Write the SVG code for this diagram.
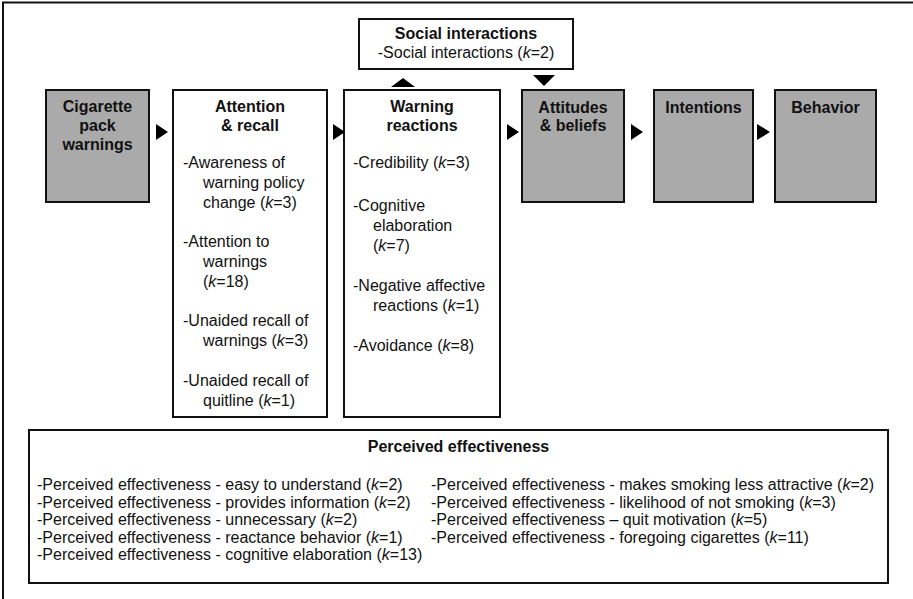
<svg xmlns="http://www.w3.org/2000/svg" width="913" height="599" viewBox="0 0 913 599">
<style>
text{font-family:"Liberation Sans",Arial,sans-serif;font-size:16px;fill:#111}
.b{font-weight:bold}
.c{text-anchor:middle}
.box{fill:#fff;stroke:#111;stroke-width:2}
.grey{fill:#aaaaaa;stroke:#111;stroke-width:2}
.arr{fill:#000}
</style>
<rect width="913" height="599" fill="#fff"/>
<path d="M3,599 V2.5 H913" fill="none" stroke="#111" stroke-width="2"/>
<g id="cigarette">
<rect class="grey" x="46" y="90" width="103" height="112"/>
<text class="b c" x="97.5" y="112">Cigarette</text>
<text class="b c" x="97.5" y="131">pack</text>
<text class="b c" x="97.5" y="150">warnings</text>
</g>
<g id="attention">
<rect class="box" x="173" y="90" width="154" height="327"/>
<text class="b c" x="250" y="112">Attention</text>
<text class="b c" x="250" y="131">&amp; recall</text>
<text x="183" y="168">-Awareness of</text>
<text x="203" y="188">warning policy</text>
<text x="203" y="207.5">change (<tspan font-style="italic">k</tspan>=3)</text>
<text x="183" y="247">-Attention to</text>
<text x="203" y="267">warnings</text>
<text x="203" y="287">(<tspan font-style="italic">k</tspan>=18)</text>
<text x="183" y="326">-Unaided recall of</text>
<text x="203" y="346">warnings (<tspan font-style="italic">k</tspan>=3)</text>
<text x="183" y="385.5">-Unaided recall of</text>
<text x="203" y="405.5">quitline (<tspan font-style="italic">k</tspan>=1)</text>
</g>
<g id="warning">
<rect class="box" x="344" y="90" width="156" height="327"/>
<text class="b c" x="422" y="112">Warning</text>
<text class="b c" x="422" y="131">reactions</text>
<text x="353" y="168">-Credibility (<tspan font-style="italic">k</tspan>=3)</text>
<text x="353" y="211">-Cognitive</text>
<text x="373" y="231">elaboration</text>
<text x="373" y="251">(<tspan font-style="italic">k</tspan>=7)</text>
<text x="353" y="291">-Negative affective</text>
<text x="373" y="311">reactions (<tspan font-style="italic">k</tspan>=1)</text>
<text x="353" y="351">-Avoidance (<tspan font-style="italic">k</tspan>=8)</text>
</g>
<g id="social">
<rect class="box" x="359" y="19" width="214" height="50"/>
<text class="b c" x="466" y="39">Social interactions</text>
<text class="c" x="466" y="58">-Social interactions (<tspan font-style="italic">k</tspan>=2)</text>
</g>
<g id="attitudes">
<rect class="grey" x="522" y="90" width="102" height="112"/>
<text class="b c" x="573" y="113">Attitudes</text>
<text class="b c" x="573" y="131">&amp; beliefs</text>
</g>
<g id="intentions">
<rect class="grey" x="654" y="90" width="99" height="112"/>
<text class="b c" x="703.5" y="113">Intentions</text>
</g>
<g id="behavior">
<rect class="grey" x="775" y="90" width="101" height="112"/>
<text class="b c" x="825.5" y="113">Behavior</text>
</g>
<g id="perceived">
<rect class="box" x="29" y="430" width="859" height="153"/>
<text class="b c" x="458.5" y="452">Perceived effectiveness</text>
<text x="37" y="490">-Perceived effectiveness - easy to understand (<tspan font-style="italic">k</tspan>=2)</text>
<text x="37" y="507.5">-Perceived effectiveness - provides information (<tspan font-style="italic">k</tspan>=2)</text>
<text x="37" y="525">-Perceived effectiveness - unnecessary (<tspan font-style="italic">k</tspan>=2)</text>
<text x="37" y="542.5">-Perceived effectiveness - reactance behavior (<tspan font-style="italic">k</tspan>=1)</text>
<text x="37" y="560">-Perceived effectiveness - cognitive elaboration (<tspan font-style="italic">k</tspan>=13)</text>
<text x="431" y="490">-Perceived effectiveness - makes smoking less attractive (<tspan font-style="italic">k</tspan>=2)</text>
<text x="431" y="507.5">-Perceived effectiveness - likelihood of not smoking (<tspan font-style="italic">k</tspan>=3)</text>
<text x="431" y="525">-Perceived effectiveness – quit motivation (<tspan font-style="italic">k</tspan>=5)</text>
<text x="431" y="542.5">-Perceived effectiveness - foregoing cigarettes (<tspan font-style="italic">k</tspan>=11)</text>
</g>
<g id="connectors">
<polygon class="arr" points="156,124 156,140 168,132"/>
<polygon class="arr" points="333,124 333,140 345,132"/>
<polygon class="arr" points="507,124 507,140 519,132"/>
<polygon class="arr" points="631,124 631,140 643,132"/>
<polygon class="arr" points="757,124 757,140 770,132"/>
<polygon class="arr" points="391,87 415,87 403,78"/>
<polygon class="arr" points="533,75 555,75 544,86"/>
</g>
</svg>
